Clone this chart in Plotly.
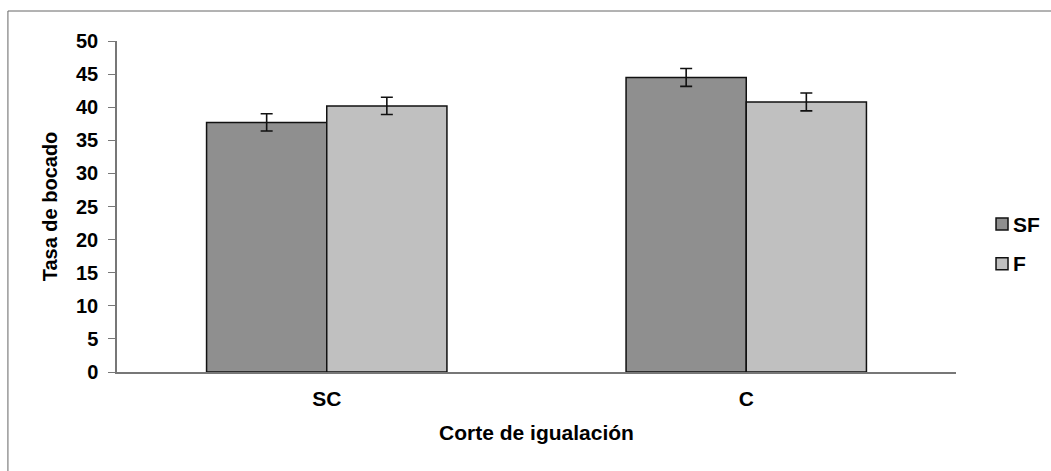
import plotly.graph_objects as go

categories = ["SC", "C"]
series_names = ["SF", "F"]
sf_values = [37.7, 44.5]
sf_errors = [1.3, 1.35]
f_values = [40.2, 40.8]
f_errors = [1.3, 1.35]
series_colors = ["#8f8f8f", "#c0c0c0"]
y_ticks = [0, 5, 10, 15, 20, 25, 30, 35, 40, 45, 50]

FONT = "Liberation Sans"
FS = 20

fig = go.Figure()
for name, vals, errs, col in zip(series_names, [sf_values, f_values],
                                 [sf_errors, f_errors], series_colors):
    fig.add_trace(go.Bar(
        x=categories, y=vals, name=name,
        marker=dict(color=col, line=dict(color="#111111", width=1.5)),
        error_y=dict(type="data", array=errs, color="#111111", thickness=1.6, width=6),
        showlegend=False,
    ))

# Custom legend (matching the reference's compact swatch/text spacing)
shapes = [dict(type="rect", xref="paper", yref="paper",
               x0=-0.13, x1=1.13, y0=-0.33, y1=1.0906,
               line=dict(color="#666666", width=1), fillcolor="rgba(0,0,0,0)",
               layer="below")]
annotations = []
legend_y = [0.447, 0.327]
for name, col, ly in zip(series_names, series_colors, legend_y):
    shapes.append(dict(type="rect", xref="paper", yref="paper",
                       x0=1.0477, x1=1.0620, y0=ly - 0.018, y1=ly + 0.018,
                       line=dict(color="#111111", width=1.5), fillcolor=col))
    annotations.append(dict(xref="paper", yref="paper", x=1.0655, y=ly,
                            xanchor="left", yanchor="middle", showarrow=False,
                            text=f"<b>{name}</b>",
                            font=dict(family=FONT, size=21, color="black")))

fig.update_layout(
    width=1051, height=471,
    margin=dict(l=117, r=95, t=41, b=99),
    paper_bgcolor="white", plot_bgcolor="white",
    barmode="group", bargap=0.427, bargroupgap=0,
    font=dict(family=FONT, size=FS, color="black"),
    showlegend=False,
    xaxis=dict(
        showline=True, linecolor="#777777", linewidth=1.5,
        ticks="", showgrid=False, zeroline=False,
        tickfont=dict(family=FONT, size=21, color="black"),
        ticklabelstandoff=7,
        title=dict(text="<b>Corte de igualación</b>", standoff=16,
                   font=dict(family=FONT, size=21, color="black")),
        tickprefix="<b>", ticksuffix="</b>",
    ),
    yaxis=dict(
        range=[0, 50], tickvals=y_ticks,
        ticktext=[f"<b>{v}</b>" for v in y_ticks],
        showline=True, linecolor="#777777", linewidth=1.5,
        ticks="outside", ticklen=7, tickcolor="#777777", tickwidth=1.2,
        showgrid=False, zeroline=False,
        tickfont=dict(family=FONT, size=FS, color="black"),
        ticklabelstandoff=6,
        title=dict(text="<b>Tasa de bocado</b>", standoff=13,
                   font=dict(family=FONT, size=FS, color="black")),
    ),
    shapes=shapes,
    annotations=annotations,
)

fig.write_html("out.html")
